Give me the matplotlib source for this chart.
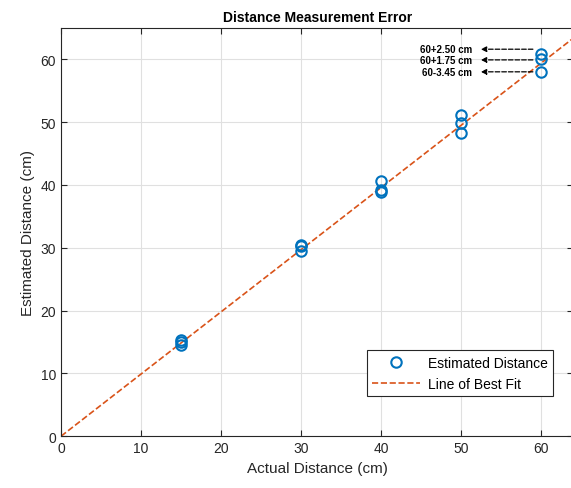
import numpy as np
import matplotlib.pyplot as plt

plt.rcParams['font.family'] = ['Liberation Sans', 'DejaVu Sans']

# Measured data
actual = [15, 15, 15, 30, 30, 30, 40, 40, 40, 50, 50, 50, 60, 60, 60]
estimated = [14.5, 15.0, 15.3, 29.5, 30.2, 30.5, 38.9, 39.2, 40.6,
             48.3, 49.9, 51.1, 60.8, 60.1, 57.9]

# Line of best fit
fit_x = [0, 64]
fit_slope = 0.99

# Annotations for the 60 cm cluster
note_labels = ['60+2.50 cm', '60+1.75 cm', '60-3.45 cm']
note_y = [61.6, 59.9, 58.0]

fig = plt.figure(figsize=(5.71, 4.89), dpi=100)
ax = fig.add_axes([0.107, 0.106, 0.897, 0.835])

blue = '#0072BD'
orange = '#D95319'

ax.plot(actual, estimated, 'o', mfc='none', mec=blue, mew=1.5, ms=7.5,
        label='Estimated Distance', zorder=3)
ax.plot(fit_x, [fit_slope * v for v in fit_x], '--', color=orange, lw=1.2,
        label='Line of Best Fit', zorder=2)

for lab, yy in zip(note_labels, note_y):
    ax.annotate('', xy=(52.1, yy), xytext=(59.3, yy),
                arrowprops=dict(arrowstyle='-|>', linestyle='--', color='black',
                                lw=0.9, mutation_scale=8))
    ax.text(51.4, yy, lab, ha='right', va='center', fontsize=7,
            fontweight='bold')

ax.set_xlim(0, 64)
ax.set_ylim(0, 65)
ax.set_xticks(np.arange(0, 61, 10))
ax.set_yticks(np.arange(0, 61, 10))
ax.grid(True, color='#e0e0e0', lw=0.8)
ax.set_axisbelow(True)
ax.tick_params(direction='in', labelsize=10, colors='#262626', length=4,
               top=True, right=True)
for s in ax.spines.values():
    s.set_color('#262626')
    s.set_linewidth(0.8)

ax.set_title('Distance Measurement Error', fontsize=10, fontweight='bold', pad=5)
ax.set_xlabel('Actual Distance (cm)', fontsize=11, color='#262626')
ax.set_ylabel('Estimated Distance (cm)', fontsize=11, color='#262626')

leg = ax.legend(loc='lower right', bbox_to_anchor=(0.961, 0.098), fontsize=10,
                fancybox=False, framealpha=1, edgecolor='#262626',
                handlelength=3.4, borderpad=0.4, handletextpad=0.6,
                borderaxespad=0)
leg.get_frame().set_linewidth(0.8)

plt.savefig('out.png', dpi=100)
